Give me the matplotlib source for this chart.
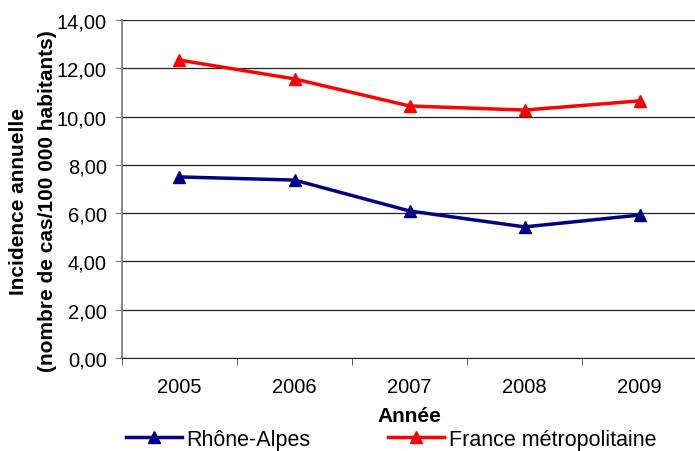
import matplotlib.pyplot as plt
from matplotlib.ticker import FixedLocator

plt.rcParams['font.family'] = ['Liberation Sans', 'DejaVu Sans']

years = ["2005", "2006", "2007", "2008", "2009"]
rhone_alpes = [7.50, 7.37, 6.09, 5.43, 5.92]
france_metro = [12.34, 11.56, 10.44, 10.27, 10.65]

fig = plt.figure(figsize=(6.95, 4.52), dpi=100)
ax = fig.add_axes([0.1755, 0.2058, 0.8275, 0.7477])

x = range(len(years))
ax.plot(x, rhone_alpes, color="#000080", lw=2.5, marker="^", ms=9, label="Rhône-Alpes")
ax.plot(x, france_metro, color="#ff0000", lw=2.5, marker="^", ms=9, label="France métropolitaine")

ax.set_xlim(-0.5, len(years) - 0.5)
ax.set_ylim(0, 14)
ax.set_yticks([0, 2, 4, 6, 8, 10, 12, 14])
ax.set_yticklabels([f"{v:.2f}".replace(".", ",") for v in [0, 2, 4, 6, 8, 10, 12, 14]])
ax.set_xticks(list(x))
ax.set_xticklabels(years)
ax.xaxis.set_minor_locator(FixedLocator([i - 0.5 for i in range(len(years) + 1)]))
ax.tick_params(axis="x", which="major", length=0, pad=14, labelsize=14.5)
ax.tick_params(axis="x", which="minor", length=5, color="#444444", direction="out")
ax.tick_params(axis="y", length=5, color="#808080", labelsize=14.5, pad=6)

ax.grid(axis="y", color="#222222", lw=0.9)
ax.set_axisbelow(True)
for s in ["top", "right"]:
    ax.spines[s].set_visible(False)
ax.spines["left"].set_color("#808080")
ax.spines["left"].set_linewidth(1.3)
ax.spines["bottom"].set_color("#222222")

ax.set_xlabel("Année", fontweight="bold", fontsize=15, labelpad=7)
ax.set_ylabel("Incidence annuelle\n(nombre de cas/100 000 habitants)", fontweight="bold",
              fontsize=15, linespacing=1.68)
ax.yaxis.set_label_coords(-0.113, 0.467)

fig.legend(loc="lower center", bbox_to_anchor=(0.563, -0.04), ncol=2, frameon=False,
           fontsize=15.5, columnspacing=3.6, handlelength=2.6, handletextpad=0.2)

fig.savefig("out.png", dpi=100)
